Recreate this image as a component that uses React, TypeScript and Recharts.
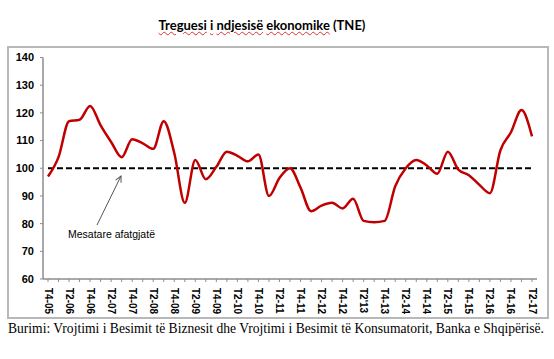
import React from "react";
import { LineChart, Line, XAxis, YAxis, ReferenceLine } from "recharts";

// quarterly T4-05 ... T2-17
const quarters: string[] = [
  "T4-05", "T1-06", "T2-06", "T3-06", "T4-06", "T1-07", "T2-07", "T3-07",
  "T4-07", "T1-08", "T2-08", "T3-08", "T4-08", "T1-09", "T2-09", "T3-09",
  "T4-09", "T1-10", "T2-10", "T3-10", "T4-10", "T1-11", "T2-11", "T3-11",
  "T4-11", "T1-12", "T2-12", "T3-12", "T4-12", "T1-13", "T2'13", "T3-13",
  "T4-13", "T1-14", "T2-14", "T3-14", "T4-14", "T1-15", "T2-15", "T3-15",
  "T4-15", "T1-16", "T2-16", "T3-16", "T4-16", "T1-17", "T2-17",
];

const tne: number[] = [
  97, 104, 117, 117.5, 122.5, 115.5, 109.5, 104, 110.5, 109, 107, 117,
  105.5, 87.5, 103, 96, 100.5, 106, 104.5, 102.5, 105, 90, 96.5, 100,
  93, 84.5, 86.5, 87.5, 85.5, 89, 81, 80.5, 81, 93.5, 100, 103,
  101, 98, 106, 99.5, 97.5, 94, 91, 106.5, 113, 121, 111.5,
];

const yTicks = [60, 70, 80, 90, 100, 110, 120, 130, 140];
const longTermAvg = 100;

const data = quarters.map((q, i) => ({ q, tne: tne[i] }));

const QuarterTick = (props: any) => {
  const { x, y, payload, index } = props;
  if (index % 2 !== 0) return null;
  return (
    <text
      x={0}
      y={0}
      transform={`translate(${x},${y + 4}) rotate(90)`}
      textAnchor="start"
      dominantBaseline="central"
      fontSize={10}
      fontWeight="bold"
      fontFamily="Liberation Sans, Arial, sans-serif"
      fill="#000"
    >
      {payload.value}
    </text>
  );
};

const wavy: React.CSSProperties = {
  textDecorationLine: "underline",
  textDecorationStyle: "wavy",
  textDecorationColor: "#e03030",
  textDecorationThickness: 1,
};

export default function App() {
  return (
    <div
      style={{
        position: "absolute",
        left: 0,
        top: 0,
        width: 554,
        height: 359,
        background: "#fff",
        overflow: "hidden",
      }}
    >
      <div
        style={{
          position: "absolute",
          left: 0,
          top: 17,
          width: 524,
          textAlign: "center",
          fontFamily: "Lato, Carlito, sans-serif",
          fontWeight: "bold",
          fontSize: 13,
          color: "#000",
        }}
      >
        <span style={wavy}>Treguesi</span> <span style={wavy}>i</span>{" "}
        <span style={wavy}>ndjesisë</span> <span style={wavy}>ekonomike</span> (TNE)
      </div>

      <div
        style={{
          position: "absolute",
          left: 7,
          top: 46,
          width: 538,
          height: 269,
          border: "2px solid #b8b8b8",
        }}
      />

      <div style={{ position: "absolute", left: 8, top: 48 }}>
        <LineChart
          width={538}
          height={267}
          data={data}
          margin={{ top: 9.5, right: 9, left: 0, bottom: 0 }}
        >
          <XAxis
            dataKey="q"
            interval={0}
            height={36}
            padding={{ left: 5, right: 5 }}
            tick={<QuarterTick />}
            tickSize={3}
            axisLine={{ stroke: "#8c8c8c", strokeWidth: 1.5 }}
            tickLine={{ stroke: "#8c8c8c" }}
          />
          <YAxis
            domain={[60, 140]}
            ticks={yTicks}
            width={35}
            tickSize={3}
            tickMargin={6}
            axisLine={{ stroke: "#8c8c8c", strokeWidth: 1.5 }}
            tickLine={{ stroke: "#8c8c8c" }}
            tick={{
              fontSize: 11,
              fontWeight: "bold",
              fill: "#000",
              fontFamily: "Liberation Sans, Arial, sans-serif",
            }}
          />
          <ReferenceLine
            segment={[
              { x: quarters[0], y: longTermAvg },
              { x: quarters[quarters.length - 1], y: longTermAvg },
            ]}
            stroke="#000"
            strokeWidth={2.2}
            strokeDasharray="6 3"
          />
          <Line
            type="monotone"
            dataKey="tne"
            stroke="#c00000"
            strokeWidth={2.5}
            dot={false}
            isAnimationActive={false}
          />
        </LineChart>
      </div>

      <svg
        width={554}
        height={359}
        style={{ position: "absolute", left: 0, top: 0, pointerEvents: "none" }}
      >
        <defs>
          <marker
            id="arrowHead"
            markerWidth="8"
            markerHeight="8"
            refX="7"
            refY="4"
            orient="auto"
          >
            <path d="M1,1 L7,4 L1,7" fill="none" stroke="#555" strokeWidth="1" />
          </marker>
        </defs>
        <line
          x1={97}
          y1={225}
          x2={121}
          y2={176}
          stroke="#555"
          strokeWidth={1}
          markerEnd="url(#arrowHead)"
        />
        <text
          x={68}
          y={238}
          fontSize={10.5}
          fontFamily="Liberation Sans, Arial, sans-serif"
          fill="#000"
        >
          Mesatare afatgjatë
        </text>
        <text
          x={8}
          y={333}
          fontSize={13.6}
          textLength={536}
          lengthAdjust="spacingAndGlyphs"
          fontFamily="Liberation Serif, Times New Roman, serif"
          fill="#000"
        >
          Burimi: Vrojtimi i Besimit të Biznesit dhe Vrojtimi i Besimit të Konsumatorit, Banka e Shqipërisë.
        </text>
      </svg>
    </div>
  );
}
